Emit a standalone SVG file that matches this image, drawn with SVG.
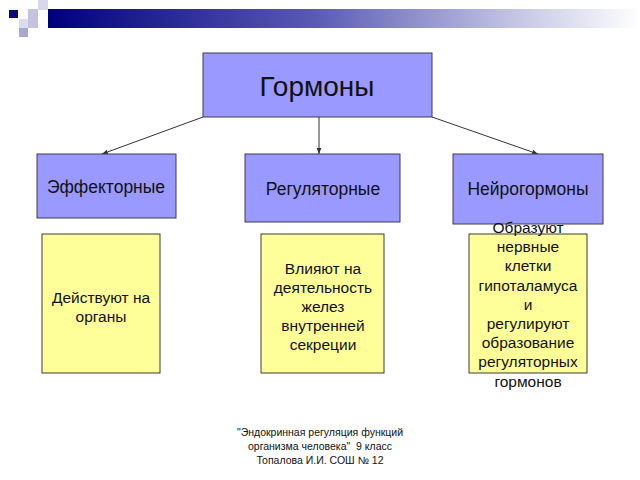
<svg xmlns="http://www.w3.org/2000/svg" width="640" height="480" viewBox="0 0 640 480">
<defs>
<linearGradient id="bar" x1="0" y1="0" x2="1" y2="0">
<stop offset="0" stop-color="#00007a"/>
<stop offset="0.45" stop-color="#5a5ab4"/>
<stop offset="0.8" stop-color="#c8c8e6"/>
<stop offset="1" stop-color="#ffffff"/>
</linearGradient>
<marker id="ah" viewBox="0 0 10 10" refX="10" refY="5" markerWidth="6" markerHeight="6" orient="auto" markerUnits="userSpaceOnUse">
<path d="M0,1 L10,5 L0,9 z" fill="#333"/>
</marker>
<style>
.blue{fill:#9999ff;stroke:#3c3c50;stroke-width:1}
.yel{fill:#ffff99;stroke:#3c3c3c;stroke-width:1}
.t{font-family:"Liberation Sans",Arial,sans-serif;fill:#111;text-anchor:middle}
.c{stroke:#333;stroke-width:1;fill:none;marker-end:url(#ah)}
</style>
</defs>
<rect width="640" height="480" fill="#fff"/>
<g id="decor">
<rect x="48" y="9" width="592" height="19" fill="url(#bar)"/>
<rect x="38" y="0" width="10" height="10" fill="#d8d8ec"/>
<rect x="28" y="9" width="10" height="19" fill="#c4c4e0"/>
<rect x="19" y="19" width="9" height="9" fill="#dcdcee"/>
<rect x="19" y="28" width="9" height="9" fill="#a8a8d4"/>
<rect x="9" y="10" width="9" height="8" fill="#0a0a7a"/>
</g>
<g id="connectors">
<line class="c" x1="203" y1="117" x2="102" y2="154"/>
<line class="c" x1="319" y1="117" x2="319" y2="154"/>
<line class="c" x1="432" y1="117" x2="538" y2="154"/>
</g>
<g id="n-gormony">
<rect class="blue" x="203" y="53" width="229" height="64"/>
<text class="t" x="317" y="96" font-size="28">Гормоны</text>
</g>
<g id="n-effektornye">
<rect class="blue" x="37" y="154" width="139" height="64"/>
<text class="t" x="106" y="193" font-size="17.5">Эффекторные</text>
</g>
<g id="n-regulyatornye">
<rect class="blue" x="245" y="154" width="155" height="68"/>
<text class="t" x="323" y="195" font-size="17.5">Регуляторные</text>
</g>
<g id="n-neyrogormony">
<rect class="blue" x="453" y="154" width="150" height="70"/>
<text class="t" x="528" y="195" font-size="17.5">Нейрогормоны</text>
</g>
<g id="n-deystvuyut">
<rect class="yel" x="42" y="234" width="118" height="139"/>
<text class="t" x="101" y="303" font-size="15.5">Действуют на</text>
<text class="t" x="101" y="322" font-size="15.5">органы</text>
</g>
<g id="n-vliyayut">
<rect class="yel" x="261" y="234" width="123" height="139"/>
<text class="t" font-size="15.5"><tspan x="323" y="274">Влияют на</tspan><tspan x="323" y="293">деятельность</tspan><tspan x="323" y="312">желез</tspan><tspan x="323" y="331">внутренней</tspan><tspan x="323" y="350">секреции</tspan></text>
</g>
<g id="n-obrazuyut">
<rect class="yel" x="469" y="234" width="118" height="139"/>
<text class="t" font-size="15.5"><tspan x="528" y="233">Образуют</tspan><tspan x="528" y="252">нервные</tspan><tspan x="528" y="271">клетки</tspan><tspan x="528" y="291">гипоталамуса</tspan><tspan x="528" y="310">и</tspan><tspan x="528" y="329">регулируют</tspan><tspan x="528" y="348">образование</tspan><tspan x="528" y="367">регуляторных</tspan><tspan x="528" y="387">гормонов</tspan></text>
</g>
<g id="footer">
<text class="t" font-size="10.5" fill="#222"><tspan x="320" y="436">"Эндокринная регуляция функций</tspan><tspan x="320" y="450">организма человека"&#160; 9 класс</tspan><tspan x="320" y="464">Топалова И.И. СОШ № 12</tspan></text>
</g>
</svg>
